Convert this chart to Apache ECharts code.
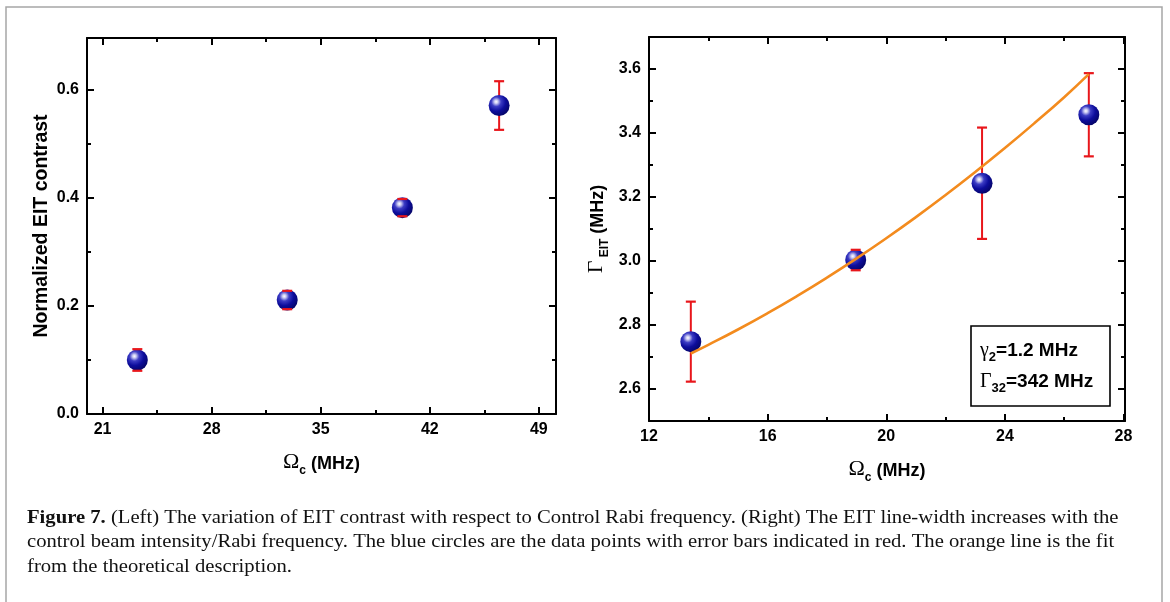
<!DOCTYPE html>
<html>
<head>
<meta charset="utf-8">
<title>Figure 7</title>
<script src="https://cdn.jsdelivr.net/npm/echarts@6/dist/echarts.min.js"></script>
<style>
  html, body { margin: 0; padding: 0; background: #fff; }
  #chart { width: 1170px; height: 602px; }
</style>
</head>
<body>
<div id="chart"></div>
<script>
// EIT contrast vs control Rabi frequency (left panel)
const contrastOmega = [23.23, 32.85, 40.24, 46.45];
const contrastValue = [0.100, 0.211, 0.382, 0.571];
const contrastError = [0.020, 0.017, 0.016, 0.045];

// EIT line-width vs control Rabi frequency (right panel)
const widthOmega = [13.41, 18.97, 23.23, 26.83];
const widthValue = [2.748, 3.003, 3.243, 3.457];
const widthError = [0.125, 0.032, 0.174, 0.130];

// theoretical fit curve (right panel)
const fitOmega = [13.41, 14, 15, 16, 17, 18, 19, 20, 21, 22, 23, 24, 25, 26, 26.83];
const fitWidth = [2.711, 2.738, 2.786, 2.837, 2.891, 2.948, 3.008, 3.071, 3.137, 3.206, 3.278, 3.353, 3.431, 3.512, 3.584];

// tick positions
const leftXMajor = [21, 28, 35, 42, 49];
const leftXMinor = [24.5, 31.5, 38.5, 45.5];
const leftYMajor = [0, 0.2, 0.4, 0.6];
const leftYMinor = [0.1, 0.3, 0.5];
const rightXMajor = [12, 16, 20, 24, 28];
const rightXMinor = [14, 18, 22, 26];
const rightYMajor = [2.6, 2.8, 3.0, 3.2, 3.4, 3.6];
const rightYMinor = [2.7, 2.9, 3.1, 3.3, 3.5];

// fit parameters shown in the inset box
const fitParams = [
  { sym: 'γ', sub: '2', text: '=1.2 MHz' },
  { sym: 'Γ', sub: '32', text: '=342 MHz' }
];

const SANS = 'Liberation Sans, Arial, sans-serif';
const SERIF = 'Liberation Serif, Times New Roman, serif';

const titleRich = {
  o: { fontFamily: SERIF, fontSize: 22, color: '#000', verticalAlign: 'bottom', padding: [0, 0, 4, 0] },
  s: { fontFamily: SANS, fontSize: 12, fontWeight: 'bold', color: '#000', verticalAlign: 'bottom' },
  m: { fontFamily: SANS, fontSize: 18, fontWeight: 'bold', color: '#000', verticalAlign: 'bottom', padding: [0, 0, 4, 0] }
};

// one panel's set of axes: main (with labels), minor ticks, and mirrored top/right frame ticks
function axisSet(dim, gridIndex, min, max, major, minor, fmt, name, nameGap, nameStyle) {
  const mainPos = dim === 'x' ? 'bottom' : 'left';
  const oppPos = dim === 'x' ? 'top' : 'right';
  const base = (pos, ticks, len, showLine, labels) => ({
    type: 'value', gridIndex, min, max, position: pos,
    axisLine: { show: showLine, onZero: false, lineStyle: { color: '#000', width: 2 } },
    axisTick: { show: true, inside: true, length: len, customValues: ticks, lineStyle: { color: '#000', width: 2 } },
    axisLabel: labels ? {
      show: true, customValues: major, formatter: fmt, margin: 8,
      fontFamily: SANS, fontSize: 16, fontWeight: 'bold', color: '#000'
    } : { show: false },
    splitLine: { show: false },
    axisPointer: { show: false }
  });
  const main = base(mainPos, major, 7, true, true);
  main.name = name;
  main.nameLocation = 'middle';
  main.nameGap = nameGap;
  main.nameTextStyle = nameStyle;
  return [
    main,
    base(mainPos, minor, 4, false, false),
    base(oppPos, major, 7, true, false),
    base(oppPos, minor, 4, false, false)
  ];
}

const intFmt = v => String(Math.round(v));
const oneDec = v => Number(v).toFixed(1);
const richTitle = { rich: titleRich };
const plainTitle = { fontFamily: SANS, fontSize: 19.5, fontWeight: 'bold', color: '#000' };

const xAxes = [
  ...axisSet('x', 0, 20, 50.1, leftXMajor, leftXMinor, intFmt, '{o|Ω}{s|c}{m| (MHz)}', 37, richTitle),
  ...axisSet('x', 1, 12, 28.05, rightXMajor, rightXMinor, intFmt, '{o|Ω}{s|c}{m| (MHz)}', 37, richTitle)
];
const yAxes = [
  ...axisSet('y', 0, 0, 0.696, leftYMajor, leftYMinor, oneDec, 'Normalized EIT contrast', 35, plainTitle),
  ...axisSet('y', 1, 2.5, 3.7, rightYMajor, rightYMinor, oneDec, '{o|Γ}{s| EIT}{m| (MHz)}', 38, richTitle)
];

const sphere = {
  type: 'radial', x: 0.36, y: 0.32, r: 0.72,
  colorStops: [
    { offset: 0, color: '#ffffff' },
    { offset: 0.12, color: '#c9c9f2' },
    { offset: 0.32, color: '#3c3cc4' },
    { offset: 0.62, color: '#0d0d9c' },
    { offset: 1, color: '#050566' }
  ]
};

const RED = '#e8161b';
const R = 10;

function errData(xs, ys, es) {
  return xs.map((x, i) => [x, ys[i] - es[i], ys[i] + es[i], ys[i]]);
}

// vertical error stems (beneath the markers)
function stemSeries(axisIdx, xs, ys, es) {
  return {
    type: 'custom', xAxisIndex: axisIdx, yAxisIndex: axisIdx, z: 2, silent: true,
    data: errData(xs, ys, es), encode: { x: 0, y: [1, 2] },
    renderItem(params, api) {
      const lo = api.coord([api.value(0), api.value(1)]);
      const hi = api.coord([api.value(0), api.value(2)]);
      return {
        type: 'line',
        shape: { x1: lo[0], y1: lo[1], x2: hi[0], y2: hi[1] },
        style: { stroke: RED, lineWidth: 2 }
      };
    }
  };
}

// error-bar caps (drawn above the markers)
function capSeries(axisIdx, xs, ys, es) {
  return {
    type: 'custom', xAxisIndex: axisIdx, yAxisIndex: axisIdx, z: 4, silent: true,
    data: errData(xs, ys, es), encode: { x: 0, y: [1, 2] },
    renderItem(params, api) {
      const lo = api.coord([api.value(0), api.value(1)]);
      const hi = api.coord([api.value(0), api.value(2)]);
      const w = 5;
      return {
        type: 'group',
        children: [
          { type: 'line', shape: { x1: lo[0] - w, y1: lo[1], x2: lo[0] + w, y2: lo[1] }, style: { stroke: RED, lineWidth: 2.2 } },
          { type: 'line', shape: { x1: hi[0] - w, y1: hi[1], x2: hi[0] + w, y2: hi[1] }, style: { stroke: RED, lineWidth: 2.2 } }
        ]
      };
    }
  };
}

function pointSeries(axisIdx, xs, ys) {
  return {
    type: 'scatter', xAxisIndex: axisIdx, yAxisIndex: axisIdx, z: 3,
    symbol: 'circle', symbolSize: 2 * R + 1,
    itemStyle: { color: sphere, opacity: 1 },
    data: xs.map((x, i) => [x, ys[i]])
  };
}

const paramRich = {
  g: { fontFamily: SERIF, fontSize: 20, color: '#000', verticalAlign: 'bottom', padding: [0, 0, 3, 0] },
  s: { fontFamily: SANS, fontSize: 13, fontWeight: 'bold', color: '#000', verticalAlign: 'bottom' },
  t: { fontFamily: SANS, fontSize: 19, fontWeight: 'bold', color: '#000', verticalAlign: 'bottom', padding: [0, 0, 3, 0] }
};

const captionLines = [
  '{b|Figure 7.} (Left) The variation of EIT contrast with respect to Control Rabi frequency. (Right) The EIT line-width increases with the',
  'control beam intensity/Rabi frequency. The blue circles are the data points with error bars indicated in red. The orange line is the fit',
  'from the theoretical description.'
];
const captionRich = {
  b: { fontFamily: SERIF, fontSize: 19, fontWeight: 'bold', color: '#111' }
};

const graphics = [
  {
    type: 'rect', silent: true, z: 0,
    shape: { x: 6, y: 7, width: 1156, height: 640 },
    style: { fill: 'none', stroke: '#a6a6a6', lineWidth: 1.5 }
  },
  {
    type: 'rect', silent: true, z: 10,
    shape: { x: 971, y: 326, width: 139, height: 80 },
    style: { fill: '#fff', stroke: '#000', lineWidth: 1.6 }
  },
  ...fitParams.map((p, i) => ({
    type: 'text', silent: true, z: 11, x: 980, y: 352 + i * 31,
    style: {
      text: `{g|${p.sym}}{s|${p.sub}}{t|${p.text}}`,
      rich: paramRich, verticalAlign: 'middle', align: 'left'
    }
  })),
  ...captionLines.map((line, i) => ({
    type: 'text', silent: true, x: 27, y: 518 + i * 24.5, scaleX: 1.087,
    style: {
      text: line, rich: captionRich,
      fontFamily: SERIF, fontSize: 19, fill: '#111',
      verticalAlign: 'middle', align: 'left'
    }
  }))
];

const chart = echarts.init(document.getElementById('chart'), null, { renderer: 'canvas' });
chart.setOption({
  animation: false,
  backgroundColor: '#fff',
  grid: [
    { left: 87, top: 38, width: 469, height: 376, containLabel: false },
    { left: 649, top: 37, width: 476, height: 384, containLabel: false }
  ],
  xAxis: xAxes,
  yAxis: yAxes,
  series: [
    stemSeries(0, contrastOmega, contrastValue, contrastError),
    pointSeries(0, contrastOmega, contrastValue),
    capSeries(0, contrastOmega, contrastValue, contrastError),
    stemSeries(4, widthOmega, widthValue, widthError),
    pointSeries(4, widthOmega, widthValue),
    capSeries(4, widthOmega, widthValue, widthError),
    {
      type: 'line', xAxisIndex: 4, yAxisIndex: 4, z: 5,
      smooth: true, showSymbol: false, symbol: 'none',
      lineStyle: { color: '#f38b1e', width: 2.6 },
      data: fitOmega.map((x, i) => [x, fitWidth[i]])
    }
  ],
  graphic: graphics
});
</script>
</body>
</html>
